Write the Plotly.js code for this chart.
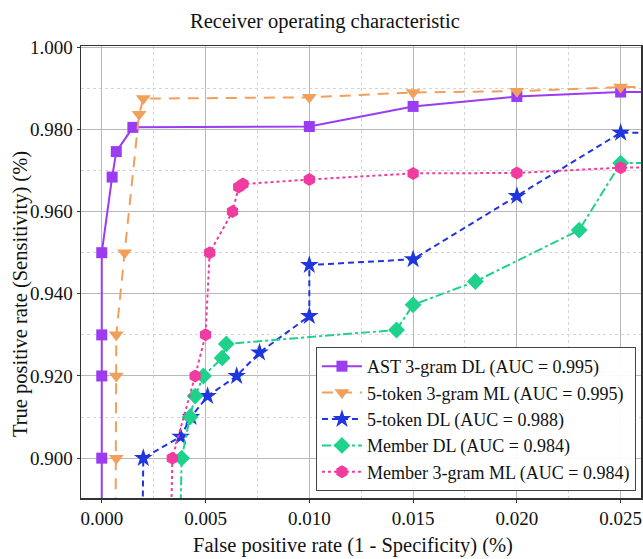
<!DOCTYPE html>
<html>
<head>
<meta charset="utf-8">
<script src="https://cdn.plot.ly/plotly-3.0.1.min.js"></script>
<style>html,body{margin:0;padding:0;background:#fff;}#chart{width:643px;height:559px;}</style>
</head>
<body>
<div id="chart"></div>
<script>
// Series names
var seriesNames = [
  "AST 3-gram DL (AUC = 0.995)",
  "5-token 3-gram ML (AUC = 0.995)",
  "5-token DL (AUC = 0.988)",
  "Member DL (AUC = 0.984)",
  "Member 3-gram ML (AUC = 0.984)"
];

// AST 3-gram DL
var astFpr = [0, 0, 0, 0, 0, 0.0005, 0.0007, 0.0015, 0.010, 0.015, 0.020, 0.025, 1];
var astTpr = [0, 0.900, 0.920, 0.930, 0.950, 0.9684, 0.9746, 0.9805, 0.9807, 0.9856, 0.9880, 0.9891, 1];

// 5-token 3-gram ML
var tok3Fpr = [0, 0.0007, 0.0007, 0.0007, 0.0011, 0.0018, 0.0020, 0.010, 0.015, 0.020, 0.025, 1];
var tok3Tpr = [0, 0.900, 0.920, 0.930, 0.950, 0.9837, 0.9875, 0.9878, 0.9890, 0.9893, 0.9903, 1];

// 5-token DL
var tokDlFpr = [0, 0.0020, 0.0038, 0.0043, 0.0051, 0.0065, 0.0076, 0.0100, 0.0100, 0.0150, 0.0200, 0.0250, 1];
var tokDlTpr = [0, 0.900, 0.9052, 0.910, 0.9151, 0.920, 0.9257, 0.9346, 0.9470, 0.9484, 0.9638, 0.9792, 1];

// Member DL
var memDlFpr = [0, 0.00385, 0.00425, 0.0045, 0.0049, 0.0058, 0.0060, 0.0142, 0.0150, 0.0180, 0.0230, 0.0250, 1];
var memDlTpr = [0, 0.900, 0.910, 0.9151, 0.920, 0.9244, 0.9278, 0.9312, 0.9373, 0.9430, 0.9555, 0.9718, 1];

// Member 3-gram ML
var mem3Fpr = [0, 0.0034, 0.0045, 0.0050, 0.0052, 0.0063, 0.0066, 0.0068, 0.0100, 0.0150, 0.0200, 0.0250, 1];
var mem3Tpr = [0, 0.900, 0.920, 0.930, 0.950, 0.960, 0.966, 0.9667, 0.9678, 0.9693, 0.9694, 0.9707, 1];

// Axis ticks and titles
var xTicks = [0, 0.005, 0.010, 0.015, 0.020, 0.025];
var xTickLabels = ["0.000", "0.005", "0.010", "0.015", "0.020", "0.025"];
var yTicks = [0.900, 0.920, 0.940, 0.960, 0.980, 1.000];
var yTickLabels = ["0.900", "0.920", "0.940", "0.960", "0.980", "1.000"];
var chartTitle = "Receiver operating characteristic";
var xTitle = "False positive rate (1 - Specificity) (%)";
var yTitle = "True positive rate (Sensitivity) (%)";

var FONT = "Liberation Serif, Times New Roman, serif";

function tr(x, y, name, color, dash, symbol, size, width) {
  return {
    x: x, y: y, name: name, type: "scatter", mode: "lines+markers",
    line: {color: color, dash: dash, width: width},
    marker: {color: color, symbol: symbol, size: size, line: {width: 0}}
  };
}

var data = [
  tr(astFpr, astTpr, seriesNames[0], "#9b3cf0", "solid", "square", 11, 2),
  tr(tok3Fpr, tok3Tpr, seriesNames[1], "#f0a05a", "11px,8px", "triangle-down", 13, 2),
  tr(tokDlFpr, tokDlTpr, seriesNames[2], "#1f35dd", "6px,4px", "star", 14, 2),
  tr(memDlFpr, memDlTpr, seriesNames[3], "#1fd28c", "dashdot", "diamond", 13, 2),
  tr(mem3Fpr, mem3Tpr, seriesNames[4], "#f03ca0", "dot", "hexagon", 13, 2)
];

var layout = {
  width: 643, height: 559,
  margin: {l: 81, r: 2, t: 46, b: 61},
  paper_bgcolor: "#ffffff", plot_bgcolor: "#ffffff",
  font: {family: FONT, color: "#111", size: 18},
  title: {text: chartTitle, font: {family: FONT, size: 20.5, color: "#111"},
          x: 0.5054, xref: "container", xanchor: "center", y: 0.963, yref: "container", yanchor: "middle"},
  showlegend: true,
  legend: {
    x: 0.991, xanchor: "right", y: 0.0155, yanchor: "bottom",
    bgcolor: "rgba(255,255,255,0.92)", bordercolor: "#444", borderwidth: 1,
    font: {family: FONT, size: 18, color: "#111"},
    tracegroupgap: 0, itemwidth: 40
  },
  xaxis: {
    range: [-0.001, 0.02598],
    tickvals: xTicks, ticktext: xTickLabels,
    tickfont: {family: FONT, size: 19, color: "#111"},
    showgrid: true, gridcolor: "#b8b8b8", gridwidth: 1,
    minor: {dtick: 0.0025, tick0: 0, showgrid: true, griddash: "dot", gridcolor: "#d4d4d4", gridwidth: 1},
    zeroline: false,
    showline: true, linecolor: "#333", linewidth: 1.5, mirror: true,
    ticks: "outside", ticklen: 3, tickcolor: "#333"
  },
  yaxis: {
    range: [0.8903, 1.0003],
    tickvals: yTicks, ticktext: yTickLabels,
    tickfont: {family: FONT, size: 19, color: "#111"},
    showgrid: true, gridcolor: "#b8b8b8", gridwidth: 1,
    minor: {dtick: 0.01, tick0: 0.9, showgrid: true, griddash: "dot", gridcolor: "#d4d4d4", gridwidth: 1},
    zeroline: false,
    showline: true, linecolor: "#333", linewidth: 1.5, mirror: true,
    ticks: "outside", ticklen: 3, tickcolor: "#333"
  },
  annotations: [
    {text: xTitle, xref: "paper", yref: "paper", x: 0.486, y: -0.106, xanchor: "center", yanchor: "middle",
     showarrow: false, font: {family: FONT, size: 20.5, color: "#111"}},
    {text: yTitle, xref: "paper", yref: "paper", x: -0.109, y: 0.451, xanchor: "center", yanchor: "middle",
     textangle: -90, showarrow: false, font: {family: FONT, size: 20.5, color: "#111"}}
  ]
};

Plotly.newPlot("chart", data, layout, {displayModeBar: false, staticPlot: true});
</script>
</body>
</html>
